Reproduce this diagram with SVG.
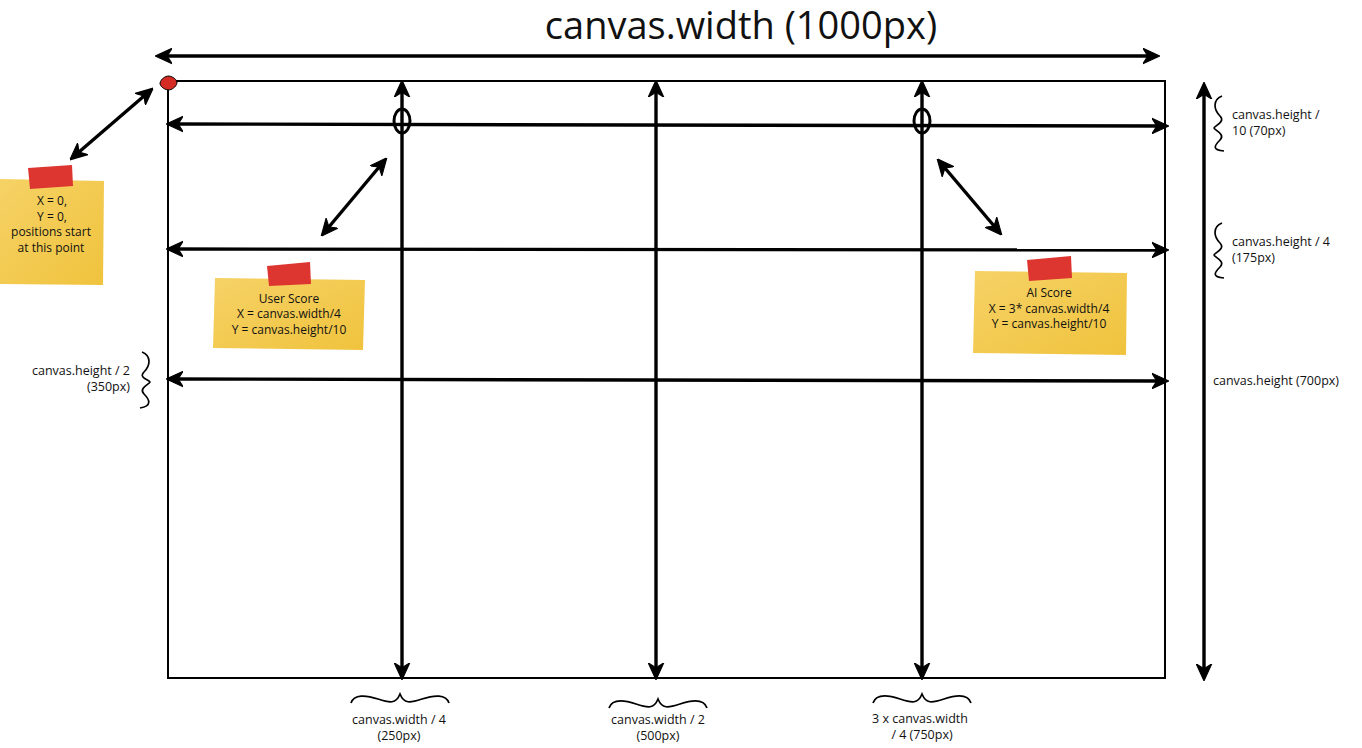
<svg xmlns="http://www.w3.org/2000/svg" width="1362" height="748" viewBox="0 0 1362 748">
<style>
text{font-family:"Open Sans",Lato,"Liberation Sans",sans-serif;fill:#111;font-size:12.5px}
.n{font-size:12px}
.c{text-anchor:middle}
.r{text-anchor:end}
.ln{stroke:#000;stroke-width:3.4;fill:none}
.thin{stroke:#000;stroke-width:2;fill:none}
.br{stroke:#000;stroke-width:1.7;fill:none}
.tape{fill:#DD3530}
</style>
<defs>
<marker id="ah" viewBox="0 0 12 12" refX="10" refY="6" markerWidth="5" markerHeight="5" orient="auto-start-reverse" markerUnits="strokeWidth">
<path d="M0,0.5 L12,6 L0,11.5 L3.5,6 z" fill="#000" stroke="#000" stroke-width="0.8" stroke-linejoin="round"/>
</marker>
<linearGradient id="ng" x1="0" y1="0" x2="1" y2="1">
<stop offset="0" stop-color="#F6D266"/>
<stop offset="1" stop-color="#F0C33D"/>
</linearGradient>
</defs>
<g id="title"><text class="c" x="741" y="39" style="font-size:38px">canvas.width (1000px)</text></g>
<g id="canvas"><rect class="thin" x="168" y="81" width="997" height="597"/>
<path d="M160,83 C161,79 165,76 169,76 C174,77 177,80 177,83 C176,87 172,90 168,90 C163,89 160,86 160,83 z" fill="#D42B25" stroke="#000" stroke-width="1"/></g>
<g id="connectors">
<line class="ln" x1="158" y1="56" x2="1157" y2="56" marker-start="url(#ah)" marker-end="url(#ah)"/>
<line class="ln" x1="1204" y1="85" x2="1204" y2="678" marker-start="url(#ah)" marker-end="url(#ah)"/>
<line class="ln" x1="169" y1="124" x2="1166" y2="126" marker-start="url(#ah)" marker-end="url(#ah)"/>
<line class="ln" x1="169" y1="249" x2="1166" y2="250" marker-start="url(#ah)" marker-end="url(#ah)"/>
<line class="ln" x1="169" y1="379" x2="1166" y2="381" marker-start="url(#ah)" marker-end="url(#ah)"/>
<line class="ln" x1="402" y1="83" x2="402" y2="677" marker-start="url(#ah)" marker-end="url(#ah)"/>
<line class="ln" x1="656" y1="83" x2="656" y2="677" marker-start="url(#ah)" marker-end="url(#ah)"/>
<line class="ln" x1="922" y1="83" x2="922" y2="677" marker-start="url(#ah)" marker-end="url(#ah)"/>
<line class="ln" x1="72" y1="158" x2="151" y2="90" marker-start="url(#ah)" marker-end="url(#ah)"/>
<line class="ln" x1="323" y1="234" x2="385" y2="160" marker-start="url(#ah)" marker-end="url(#ah)"/>
<line class="ln" x1="939" y1="161" x2="1000" y2="233" marker-start="url(#ah)" marker-end="url(#ah)"/>
</g>
<g id="markers">
<ellipse cx="402" cy="121" rx="8" ry="12" fill="none" stroke="#000" stroke-width="3"/>
<ellipse cx="922" cy="121" rx="8" ry="12" fill="none" stroke="#000" stroke-width="3"/>
</g>
<g id="braces">
<path class="br" d="M1222,96 C1212,100 1214,110 1220,116 C1226,122 1214,126 1214,128 C1214,130 1226,134 1220,140 C1214,146 1212,150 1224,151"/>
<path class="br" d="M1222,223 C1212,227 1214,237 1220,243 C1226,249 1214,253 1214,255 C1214,257 1226,261 1220,267 C1214,273 1212,277 1224,278"/>
<path class="br" d="M142,352 C152,356 150,366 144,372 C138,378 150,380 150,382 C150,384 138,388 144,394 C150,400 152,406 140,408"/>
<path class="br" d="M351,703 C354,694 366,695 378,699 C390,703 396,704 400,694 C404,704 410,703 422,699 C434,695 446,694 449,703"/>
<path class="br" d="M609,708 C612,699 624,700 636,704 C648,708 654,709 658,699 C662,709 668,708 680,704 C692,700 704,699 707,708"/>
<path class="br" d="M873,703 C876,694 888,695 900,699 C912,703 918,704 922,694 C926,704 932,703 944,699 C956,695 968,694 971,703"/>
</g>
<g id="labels">
<text x="1232" y="119">canvas.height /</text>
<text x="1232" y="135">10 (70px)</text>
<text x="1232" y="246">canvas.height / 4</text>
<text x="1232" y="262">(175px)</text>
<text x="1213" y="385">canvas.height (700px)</text>
<text class="r" x="130" y="375">canvas.height / 2</text>
<text class="r" x="130" y="391">(350px)</text>
<text class="c" x="399" y="724">canvas.width / 4</text>
<text class="c" x="399" y="740">(250px)</text>
<text class="c" x="658" y="724">canvas.width / 2</text>
<text class="c" x="658" y="740">(500px)</text>
<text class="c" x="920" y="723">3 x canvas.width</text>
<text class="c" x="922" y="739">/ 4 (750px)</text>
</g>
<g id="note-origin">
<path d="M0,179 L104,181 L103,285 L0,284 z" fill="url(#ng)"/>
<path class="tape" d="M28,168 L72,165 L73,186 L30,189 z"/>
<text class="c n" x="52" y="205">X = 0,</text>
<text class="c n" x="52" y="221">Y = 0,</text>
<text class="c n" x="51" y="236">positions start</text>
<text class="c n" x="51" y="252">at this point</text>
</g>
<g id="note-user">
<path d="M215,278 L365,280 L363,350 L213,348 z" fill="url(#ng)"/>
<path class="tape" d="M267,266 L310,262 L311,284 L269,286 z"/>
<text class="c n" x="289" y="303">User Score</text>
<text class="c n" x="289" y="318">X = canvas.width/4</text>
<text class="c n" x="289" y="334">Y = canvas.height/10</text>
</g>
<g id="note-ai">
<path d="M975,271 L1127,273 L1126,355 L973,353 z" fill="url(#ng)"/>
<path class="tape" d="M1027,260 L1071,256 L1072,278 L1029,281 z"/>
<text class="c n" x="1049" y="297">AI Score</text>
<text class="c n" x="1049" y="313">X = 3* canvas.width/4</text>
<text class="c n" x="1049" y="328">Y = canvas.height/10</text>
</g>
</svg>
